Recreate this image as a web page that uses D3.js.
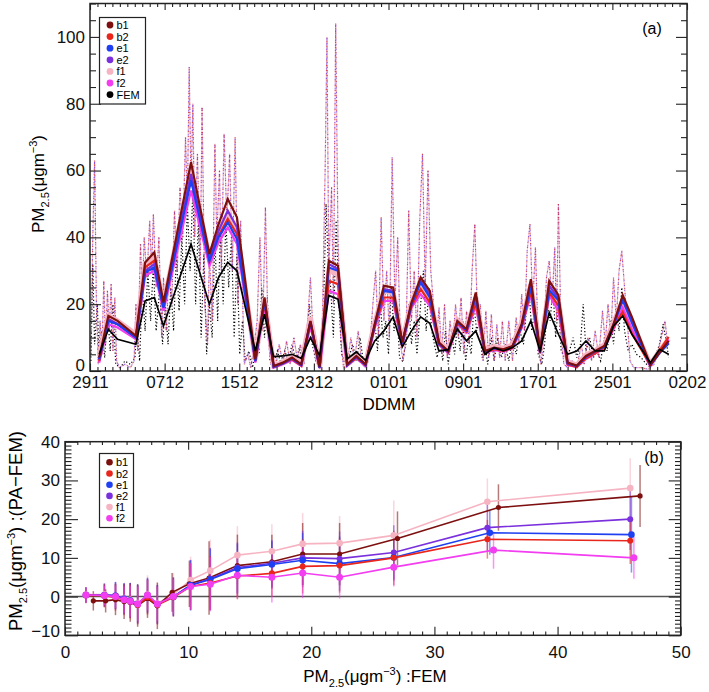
<!DOCTYPE html>
<html>
<head>
<meta charset="utf-8">
<script src="https://cdn.jsdelivr.net/npm/d3@7"></script>
<style>
body { margin: 0; background: #fff; }
svg { font-family: "Liberation Sans", Arial, Helvetica, sans-serif; }
</style>
</head>
<body>
<div id="chart"></div>
<script>
// ---- panel (a) data: daily means (day 0 = 29 Nov) ----
var dateTicks = ["2911","0712","1512","2312","0101","0901","1701","2501","0202"];
var days = [1,2,3,5,6,7,8,11,13,14,15,16,18,19,20,21,22,23,24,25,26,27,28,29,30,31,32,33,34,35,36,37,38,39,40,41,42,43,44,45,46,47,48,49,50,51,52,53,54,55,56,57,58,59,61,62,63];
var femDaily = [5,12.5,9.5,8,21,22,13.5,38,20,28,32.5,30, 6,17,4.3,4.5,5,3.8,10,4.6,22.6,21.5, 3.6,5.7,3.2,9,12,16.2,7.2,12,16.2,14.3, 6,6.4,12.6,9,12,5,7,6,7,9, 15,6,17.5,11,5,6,9,6,6,13.5, 16.5,11, 2.5,6.5,5];
var b1Daily = [4,16.5,15,10.5,32.5,35.5,20.5,62.5,35,44,51.5,46, 3.5,22,1.5,2.5,4,2,15,1.2,33,31.5, 2,4.5,2,14,25.5,25,8.5,20.5,28,24, 8.5,6,15,12.5,23.5,6,7,6.5,7.5,14, 27.5,6,27,22.7,2.5,1.6,4.5,6,7.5,14, 22.7,16.2, 1.8,5.5,9];
var b2Daily = [3,15.5,14,10,31,33,19.5,58,33,40.5,45.5,41, 3,20.5,1.2,2.2,3.5,1.6,14.5,1,27,26, 1.7,4,1.7,13.5,22,22,8,19.5,24.5,20.5, 8,5.6,14.3,11.8,20.5,5.6,6.5,6,7,13.2, 24,5.5,23.5,19.5,2,1.2,3.8,5.3,7,13, 17.7,11.2, 1.8,6,10.2];
var e1Daily = [3.5,15,14,10,29.5,31,19,57,33,40,44.5,39.5, 3,21,1.3,2.3,3.8,1.8,14.7,1,31,30, 1.8,4.3,1.8,13.7,24,23.5,8.2,20,26.5,22, 8.2,5.8,14.7,12.2,22.5,5.8,6.8,6.3,7.3,13.5, 25.2,5.8,24.2,21.2,2.3,1.5,4.3,5.8,7.3,13.7, 21.2,14.5, 1.7,5.3,8.2];
var e2Daily = [3.5,15.5,14,10,30,32,19,59,33.5,42,48,43, 3,21.5,1.3,2.3,3.8,1.8,14.8,1,32,30.5, 1.8,4.3,1.8,13.8,24.5,24,8.2,20,27,23, 8.2,5.8,14.7,12.2,22.8,5.8,6.8,6.3,7.3,13.6, 26,5.8,25.5,21.8,2.3,1.5,4.3,5.8,7.3,13.8, 21.8,15, 1.7,5.5,8.5];
var f1Daily = [4.5,16.5,15,11,32,34,20,60,34,42,47,42, 3.5,21.5,1.6,2.6,4.2,2.2,16,1.3,30,29, 2.2,4.8,2.2,14.5,24,23.5,8.8,20.5,26,22, 8.8,6.2,15.3,12.6,22,6.3,7.3,6.8,7.8,14.5, 26,6.3,25,21,2.8,1.8,4.8,6.2,7.8,14.5, 21,14.5, 2,6,9.5];
var f2Daily = [2.5,14,13,9.5,28.5,30,18,54,31.5,38.5,43,38, 2.5,19.5,1,2,3.3,1.5,13.5,0.8,24,23, 1.5,3.8,1.5,13,21,21,7.7,19,23,19.5, 7.8,5.4,14,11.5,19.5,5.4,6.3,5.8,6.8,12.8, 23,5.3,22.7,18,1.8,1.2,3.6,5.2,6.8,12.5, 19,12.5, 1.5,5.6,9.5];

// hourly peaks/troughs: [day, value]
var paHourly = [[0.1,5],[0.3,40],[0.5,63],[0.7,20],[0.9,2],[1.1,15],[1.3,5],[1.5,27],[1.7,8],[1.9,24],[2.1,12],[2.3,26],[2.5,6],[2.7,22],[2.9,3],[3.2,1],[3.8,2],[4.4,1],[4.8,3],[5.0,20],[5.2,6],[5.5,38],[5.7,22],[5.9,40],[6.2,28],[6.5,45],[6.7,30],[6.9,47],[7.2,25],[7.5,40],[7.8,10],[8.0,28],[8.3,12],[8.6,30],[8.9,20],[9.2,48],[9.5,30],[9.8,55],[10.1,40],[10.4,70],[10.6,50],[10.8,91],[11.0,55],[11.2,80],[11.4,40],[11.7,65],[12.0,30],[12.2,79],[12.5,20],[12.8,8],[13.0,35],[13.3,15],[13.6,68],[13.8,40],[14.1,60],[14.3,30],[14.6,71],[14.9,45],[15.2,65],[15.5,30],[15.8,70],[16.1,20],[16.4,45],[16.8,2],[17.2,5],[17.5,1],[17.9,8],[18.2,15],[18.5,40],[18.8,12],[19.1,49],[19.4,10],[19.7,2],[20.2,1],[20.6,8],[21.0,2],[21.4,9],[21.8,2],[22.2,10],[22.6,3],[22.9,8],[23.3,2],[23.7,15],[24.0,28],[24.3,10],[24.6,3],[25.0,1],[25.3,15],[25.6,60],[25.8,100],[26.0,30],[26.3,55],[26.5,20],[26.75,104],[27.0,40],[27.3,10],[27.6,1],[28.0,2],[28.4,10],[28.8,3],[29.2,12],[29.6,2],[30.0,1],[30.4,5],[30.8,20],[31.1,30],[31.4,10],[31.7,46],[32.0,15],[32.3,30],[32.6,10],[32.9,64],[33.2,20],[33.5,40],[33.8,8],[34.1,3],[34.4,10],[34.7,48],[35.0,15],[35.3,30],[35.6,10],[35.9,45],[36.2,65],[36.5,25],[36.8,60],[37.1,30],[37.4,20],[37.7,8],[38.0,19],[38.3,5],[38.6,20],[38.9,4],[39.2,15],[39.5,8],[39.8,20],[40.1,10],[40.4,22],[40.7,5],[41.0,18],[41.3,8],[41.6,30],[41.9,44],[42.2,15],[42.5,20],[42.8,3],[43.1,18],[43.4,4],[43.7,17],[44.0,3],[44.3,14],[44.6,4],[44.9,15],[45.2,3],[45.6,15],[46.0,3],[46.4,16],[46.7,8],[47.0,23],[47.3,12],[47.6,36],[47.9,44],[48.2,20],[48.5,37],[48.8,8],[49.1,2],[49.4,10],[49.7,28],[50.0,33],[50.3,20],[50.6,37],[50.8,15],[51.0,50],[51.3,10],[51.6,2],[52.0,1],[52.5,3],[53.0,1],[53.5,8],[53.8,2],[54.2,10],[54.6,3],[55.0,12],[55.4,4],[55.8,18],[56.1,8],[56.4,20],[56.7,10],[57.0,28],[57.3,15],[57.6,30],[57.9,36],[58.2,25],[58.5,15],[58.8,3],[59.2,1],[60.0,1],[60.8,0.5],[61.4,2],[61.8,5],[62.2,10],[62.6,15],[62.9,8]];
var femHourly = [[0.1,3],[0.3,32],[0.5,8],[0.8,20],[1.0,3],[1.3,12],[1.6,4],[1.9,18],[2.2,6],[2.5,20],[2.8,2],[3.3,1],[3.8,3],[4.4,2],[4.9,4],[5.1,14],[5.4,3],[5.7,25],[6.0,12],[6.3,30],[6.6,15],[6.9,32],[7.2,12],[7.6,25],[7.9,8],[8.2,20],[8.5,8],[8.8,25],[9.1,12],[9.4,35],[9.7,18],[10.0,40],[10.3,20],[10.6,50],[10.9,30],[11.2,55],[11.5,20],[11.8,45],[12.1,10],[12.4,35],[12.7,5],[13.0,20],[13.3,10],[13.6,40],[13.9,15],[14.2,42],[14.5,20],[14.8,45],[15.1,25],[15.4,40],[15.7,10],[16.0,35],[16.3,5],[16.6,15],[16.9,3],[17.3,6],[17.7,1],[18.1,8],[18.4,5],[18.7,25],[19.0,10],[19.3,22],[19.6,3],[20.0,2],[20.4,6],[20.8,2],[21.2,6],[21.6,3],[22.0,8],[22.4,3],[22.8,7],[23.2,2],[23.6,10],[23.9,20],[24.2,8],[24.6,3],[25.0,2],[25.4,15],[25.7,50],[25.9,35],[26.2,25],[26.5,10],[26.8,45],[27.1,20],[27.4,5],[27.8,2],[28.2,4],[28.6,8],[29.0,3],[29.4,10],[29.8,2],[30.2,2],[30.6,10],[31.0,15],[31.3,6],[31.6,20],[31.9,10],[32.2,15],[32.5,5],[32.8,25],[33.1,12],[33.4,20],[33.7,4],[34.0,3],[34.4,8],[34.7,20],[35.0,8],[35.3,15],[35.6,5],[36.0,20],[36.3,30],[36.6,12],[36.9,25],[37.2,12],[37.5,8],[37.8,4],[38.1,10],[38.4,3],[38.7,12],[39.0,2],[39.4,10],[39.7,5],[40.0,14],[40.3,6],[40.6,15],[40.9,3],[41.2,10],[41.5,5],[41.8,20],[42.1,12],[42.4,15],[42.7,4],[43.0,8],[43.3,2],[43.7,10],[44.0,3],[44.4,10],[44.8,4],[45.2,8],[45.6,3],[46.0,10],[46.4,5],[46.8,12],[47.2,8],[47.5,18],[47.8,24],[48.1,12],[48.5,20],[48.8,5],[49.2,2],[49.5,8],[49.8,20],[50.1,15],[50.4,25],[50.7,10],[51.0,20],[51.3,6],[51.7,4],[52.2,6],[52.6,10],[53.0,4],[53.4,8],[53.7,20],[54.0,6],[54.4,10],[54.8,4],[55.2,6],[55.6,3],[56.0,10],[56.3,6],[56.7,15],[57.0,8],[57.3,18],[57.6,12],[57.9,25],[58.2,12],[58.6,6],[59.0,8],[59.5,5],[60.0,4],[60.6,2],[61.0,1],[61.5,4],[62.0,8],[62.4,14],[62.8,8],[63.0,4]];

// ---- panel (b) data: binned PA-FEM difference vs FEM ----
var b1X = [2.3,3.3,4.1,4.8,5.3,5.9,6.7,7.5,8.7,10.1,11.7,14.0,16.8,19.3,22.3,27.0,35.2,46.7];
var b1Y = [-1.1,-1.1,-0.8,-1.3,-1.5,-2.3,-0.5,-2.4,1.1,3.3,4.8,8.0,9.0,11.0,11.0,15.0,23.0,26.0];
var b1Err = [2.5,3,4,4.5,5,5.5,5,6,5,6,9.5,8,7,8,8,7,6,8];
var b2X = [1.7,3.2,4.1,4.8,5.3,5.9,6.7,7.5,8.8,10.2,11.8,14.0,16.8,19.3,22.3,26.7,34.3,45.9];
var b2Y = [0.3,0.2,-0.2,-0.8,-1.2,-2.2,-0.2,-2.2,-0.2,2.6,3.5,5.3,6.0,7.8,8.0,10.0,14.8,14.4];
var b2Err = [2,3,3.5,4,4.5,5,4.5,5,5,6,7,6,6,7,7,7,5,6];
var e1X = [1.7,3.2,4.1,4.8,5.3,5.9,6.7,7.5,8.8,10.2,11.8,14.0,16.8,19.3,22.3,26.7,34.5,46.0];
var e1Y = [0.4,0.3,0.2,-0.6,-1.0,-1.9,0.2,-2.0,-0.1,2.9,4.4,7.2,8.3,9.4,8.5,10.1,16.5,16.0];
var e1Err = [2,3,3.5,4,4.5,5,4.5,5,5,6.5,8,6.5,6,7,7,6,5.7,9.8];
var e2X = [1.7,3.2,4.1,4.8,5.3,5.9,6.7,7.5,8.8,10.2,11.8,14.0,16.8,19.3,22.3,26.7,34.3,45.9];
var e2Y = [0.4,0.4,0.3,-0.5,-1.0,-2.0,0.4,-2.0,0.0,3.0,4.6,7.5,8.6,10.0,9.8,11.4,17.8,20.0];
var e2Err = [2,3,3.5,4,4.5,5,4.5,5,5,6.5,8,6.5,6,7,7,7,6,8];
var f1X = [1.7,3.2,4.1,4.8,5.3,5.9,6.7,7.5,8.8,10.2,11.8,14.0,16.8,19.3,22.3,26.7,34.3,45.9];
var f1Y = [0.5,0.5,0.2,-0.4,-0.8,-1.7,0.5,-1.8,0.6,4.3,6.7,10.7,11.7,13.6,13.8,15.8,24.5,28.0];
var f1Err = [2,3,3.5,4,4.5,5,5,5.5,5.5,6,8,7.5,7,8,7,9,6,7.7];
var f2X = [1.7,3.2,4.1,4.8,5.3,5.9,6.7,7.5,8.8,10.2,11.8,14.0,16.8,19.3,22.3,26.7,34.8,46.2];
var f2Y = [0.4,0.3,0.0,-0.8,-1.2,-1.9,0.4,-1.9,0.0,2.6,3.2,5.5,5.0,6.1,5.0,7.6,12.0,10.0];
var f2Err = [2,2.5,3,3.5,4,4.5,4,4.5,4.5,6,7,6,6.5,6.5,5.5,5,4.8,5.4];

var names = ["b1","b2","e1","e2","f1","f2"];
var colors = {b1:"#7d0f0f", b2:"#e8261c", e1:"#1e3ff2", e2:"#7a30dc", f1:"#f6b4c3", f2:"#f23df0", FEM:"#000"};

var FONT = "Liberation Sans, Arial, Helvetica, sans-serif";
var svg = d3.select("#chart").append("svg").attr("width", 709).attr("height", 692);

// helper: ticks pointing into the box, no labels
function inTicks(g, axisFn, scale, tr, values, len) {
  g.append("g").attr("transform", tr)
    .call(axisFn(scale).tickValues(values).tickSize(-len).tickFormat(""))
    .call(function(s){ s.select(".domain").remove(); })
    .selectAll("line").attr("stroke-width", 1.1);
}
function labels(g, axisFn, scale, tr, values, pad, fmt) {
  var a = g.append("g").attr("transform", tr)
    .call(axisFn(scale).tickValues(values).tickSize(0).tickPadding(pad).tickFormat(fmt))
    .attr("font-size", 17).attr("font-family", FONT);
  a.select(".domain").remove();
  a.selectAll("text").attr("fill", "#111");
  return a;
}
function pmLabel(t, suffix) {
  t.append("tspan").text("PM");
  t.append("tspan").attr("font-size", 11).attr("dy", 5).text("2.5");
  t.append("tspan").attr("dy", -5).text("(\u03bcgm");
  t.append("tspan").attr("font-size", 11).attr("dy", -7).text("\u22123");
  t.append("tspan").attr("dy", 7).text(")" + suffix);
}

// ================= panel (a) =================
var A = {l: 90, r: 687, t: 3.5, b: 371};
var xa = d3.scaleLinear().domain([0, 65]).range([A.l, A.r]);
var ya = d3.scaleLinear().domain([0, 110]).range([A.b, A.t]);
var ga = svg.append("g").attr("color", "#222");

svg.append("clipPath").attr("id", "clipA").append("rect")
  .attr("x", A.l).attr("y", A.t).attr("width", A.r - A.l).attr("height", A.b - A.t);
var plotA = ga.append("g").attr("clip-path", "url(#clipA)");

var hourLine = d3.line().x(function(d){ return xa(d[0]); }).y(function(d){ return ya(d[1]); });
plotA.append("path").datum(femHourly).attr("d", hourLine)
  .attr("fill", "none").attr("stroke", "#000").attr("stroke-width", 1.2).attr("stroke-dasharray", "1.2,2.2");
[["#f4a9c0", 0], ["#7a35d8", 1.6], ["#d02a40", 3.2]].forEach(function(c) {
  plotA.append("path").datum(paHourly).attr("d", hourLine)
    .attr("fill", "none").attr("stroke", c[0]).attr("stroke-width", 1.2).attr("opacity", 0.85)
    .attr("stroke-dasharray", "1.2,3.6").attr("stroke-dashoffset", c[1]);
});

var dayLine = d3.line().x(function(d, i){ return xa(days[i]); }).y(function(d){ return ya(d); });
[[f1Daily, colors.f1, 5], [f2Daily, colors.f2, 2.2], [b2Daily, colors.b2, 2.2],
 [e2Daily, colors.e2, 2.2], [e1Daily, colors.e1, 2.2], [b1Daily, colors.b1, 2.2],
 [femDaily, "#000", 1.7]].forEach(function(s) {
  plotA.append("path").datum(s[0]).attr("d", dayLine)
    .attr("fill", "none").attr("stroke", s[1]).attr("stroke-width", s[2])
    .attr("stroke-linejoin", "miter");
});

var xMajA = d3.range(9).map(function(i){ return i * 65 / 8; });
var xMinA = d3.range(81).map(function(i){ return i * 65 / 80; }).filter(function(d, i){ return i % 10; });
var yMajA = d3.range(0, 101, 20);
var yMinA = d3.range(0, 111, 5).filter(function(d){ return d % 20; });
inTicks(ga, d3.axisBottom, xa, "translate(0," + A.b + ")", xMajA, 7.5);
inTicks(ga, d3.axisBottom, xa, "translate(0," + A.b + ")", xMinA, 4);
inTicks(ga, d3.axisTop, xa, "translate(0," + A.t + ")", xMajA, 6.5);
inTicks(ga, d3.axisTop, xa, "translate(0," + A.t + ")", xMinA, 3.5);
inTicks(ga, d3.axisLeft, ya, "translate(" + A.l + ",0)", yMajA, 11);
inTicks(ga, d3.axisLeft, ya, "translate(" + A.l + ",0)", yMinA, 6);
inTicks(ga, d3.axisRight, ya, "translate(" + A.r + ",0)", yMajA, 11);
inTicks(ga, d3.axisRight, ya, "translate(" + A.r + ",0)", yMinA, 6);
ga.append("rect").attr("x", A.l).attr("y", A.t).attr("width", A.r - A.l).attr("height", A.b - A.t)
  .attr("fill", "none").attr("stroke", "#222").attr("stroke-width", 1.5);

labels(ga, d3.axisBottom, xa, "translate(0," + A.b + ")", xMajA, 5, function(d, i){ return dateTicks[i]; });
labels(ga, d3.axisLeft, ya, "translate(" + A.l + ",0)", yMajA, 5, d3.format("d"))
  .selectAll("text").filter(function(d){ return d === 0; }).attr("dy", "-0.05em");

ga.append("text").attr("x", 389).attr("y", 410).attr("text-anchor", "middle")
  .attr("font-size", 17).attr("font-family", FONT).text("DDMM");
pmLabel(ga.append("text").attr("transform", "translate(44,184) rotate(-90)")
  .attr("text-anchor", "middle").attr("font-size", 17).attr("font-family", FONT), "");
ga.append("text").attr("x", 652).attr("y", 34).attr("text-anchor", "middle")
  .attr("font-size", 16).attr("font-family", FONT).text("(a)");

// legend (a)
var legA = ga.append("g");
legA.append("rect").attr("x", 99.5).attr("y", 17.5).attr("width", 46).attr("height", 86.5)
  .attr("fill", "#fff").attr("stroke", "#222").attr("stroke-width", 1.2);
names.concat(["FEM"]).forEach(function(n, i) {
  var yy = 25 + i * 11.6;
  legA.append("circle").attr("cx", 110).attr("cy", yy).attr("r", 3.4).attr("fill", colors[n]);
  legA.append("text").attr("x", 116.5).attr("y", yy + 4).attr("font-size", 11)
    .attr("font-family", FONT).text(n);
});

// ================= panel (b) =================
var B = {l: 65, r: 680.7, t: 441.7, b: 635.3};
var xb = d3.scaleLinear().domain([0, 50]).range([B.l, B.r]);
var yb = d3.scaleLinear().domain([-10, 40]).range([B.b, B.t]);
var gb = svg.append("g").attr("color", "#222");

gb.append("line").attr("x1", B.l).attr("x2", B.r).attr("y1", yb(0)).attr("y2", yb(0))
  .attr("stroke", "#555").attr("stroke-width", 1.5);

var seriesB = {
  b1: {x: b1X, y: b1Y, e: b1Err, r: 2.6},
  b2: {x: b2X, y: b2Y, e: b2Err, r: 3},
  e1: {x: e1X, y: e1Y, e: e1Err, r: 3.3},
  e2: {x: e2X, y: e2Y, e: e2Err, r: 3},
  f1: {x: f1X, y: f1Y, e: f1Err, r: 3.3},
  f2: {x: f2X, y: f2Y, e: f2Err, r: 3.5}
};
var drawOrder = ["f1", "b1", "e2", "e1", "b2", "f2"];
drawOrder.forEach(function(n) {
  var s = seriesB[n];
  gb.selectAll(null).data(s.y).enter().append("line")
    .attr("x1", function(d, i){ return xb(s.x[i]); }).attr("x2", function(d, i){ return xb(s.x[i]); })
    .attr("y1", function(d, i){ return yb(d - s.e[i]); }).attr("y2", function(d, i){ return yb(d + s.e[i]); })
    .attr("stroke", colors[n]).attr("stroke-width", 1.5).attr("opacity", 0.55);
});
drawOrder.forEach(function(n) {
  var s = seriesB[n];
  gb.append("path").datum(s.y)
    .attr("d", d3.line().x(function(d, i){ return xb(s.x[i]); }).y(function(d){ return yb(d); }))
    .attr("fill", "none").attr("stroke", colors[n]).attr("stroke-width", 1.6);
  gb.selectAll(null).data(s.y).enter().append("circle")
    .attr("cx", function(d, i){ return xb(s.x[i]); }).attr("cy", function(d){ return yb(d); })
    .attr("r", s.r).attr("fill", colors[n]);
});

var xMajB = d3.range(0, 51, 10), xMinB = d3.range(0, 51, 1).filter(function(d){ return d % 10; });
var yMajB = d3.range(-10, 41, 10), yMinB = d3.range(-10, 41, 1).filter(function(d){ return d % 10; });
inTicks(gb, d3.axisBottom, xb, "translate(0," + B.b + ")", xMajB, 8.5);
inTicks(gb, d3.axisBottom, xb, "translate(0," + B.b + ")", xMinB, 3.7);
inTicks(gb, d3.axisTop, xb, "translate(0," + B.t + ")", xMajB, 8);
inTicks(gb, d3.axisTop, xb, "translate(0," + B.t + ")", xMinB, 3.3);
inTicks(gb, d3.axisLeft, yb, "translate(" + B.l + ",0)", yMajB, 13);
inTicks(gb, d3.axisLeft, yb, "translate(" + B.l + ",0)", yMinB, 6.5);
inTicks(gb, d3.axisRight, yb, "translate(" + B.r + ",0)", yMajB, 12);
inTicks(gb, d3.axisRight, yb, "translate(" + B.r + ",0)", yMinB, 5.7);
gb.append("rect").attr("x", B.l).attr("y", B.t).attr("width", B.r - B.l).attr("height", B.b - B.t)
  .attr("fill", "none").attr("stroke", "#222").attr("stroke-width", 1.5);

labels(gb, d3.axisBottom, xb, "translate(0," + B.b + ")", xMajB, 11, d3.format("d"));
labels(gb, d3.axisLeft, yb, "translate(" + B.l + ",0)", yMajB, 5, function(d){ return d < 0 ? "\u2212" + (-d) : d; })
  .selectAll("text").filter(function(d){ return d === -10; }).attr("dy", "0.08em");

pmLabel(gb.append("text").attr("x", 375).attr("y", 682).attr("text-anchor", "middle")
  .attr("font-size", 17).attr("font-family", FONT), " :FEM");
pmLabel(gb.append("text").attr("transform", "translate(22,531) rotate(-90)")
  .attr("text-anchor", "middle").attr("font-size", 18.5).attr("font-family", FONT), " :(PA\u2212FEM)");
gb.append("text").attr("x", 654).attr("y", 463).attr("text-anchor", "middle")
  .attr("font-size", 16).attr("font-family", FONT).text("(b)");

// legend (b)
var legB = gb.append("g");
legB.append("rect").attr("x", 99.5).attr("y", 453.5).attr("width", 34).attr("height", 74)
  .attr("fill", "#fff").attr("stroke", "#222").attr("stroke-width", 1.2);
names.forEach(function(n, i) {
  var yy = 462.3 + i * 11.2;
  legB.append("circle").attr("cx", 109.5).attr("cy", yy).attr("r", 3.3).attr("fill", colors[n]);
  legB.append("text").attr("x", 116).attr("y", yy + 4).attr("font-size", 11)
    .attr("font-family", FONT).text(n);
});
</script>
</body>
</html>
